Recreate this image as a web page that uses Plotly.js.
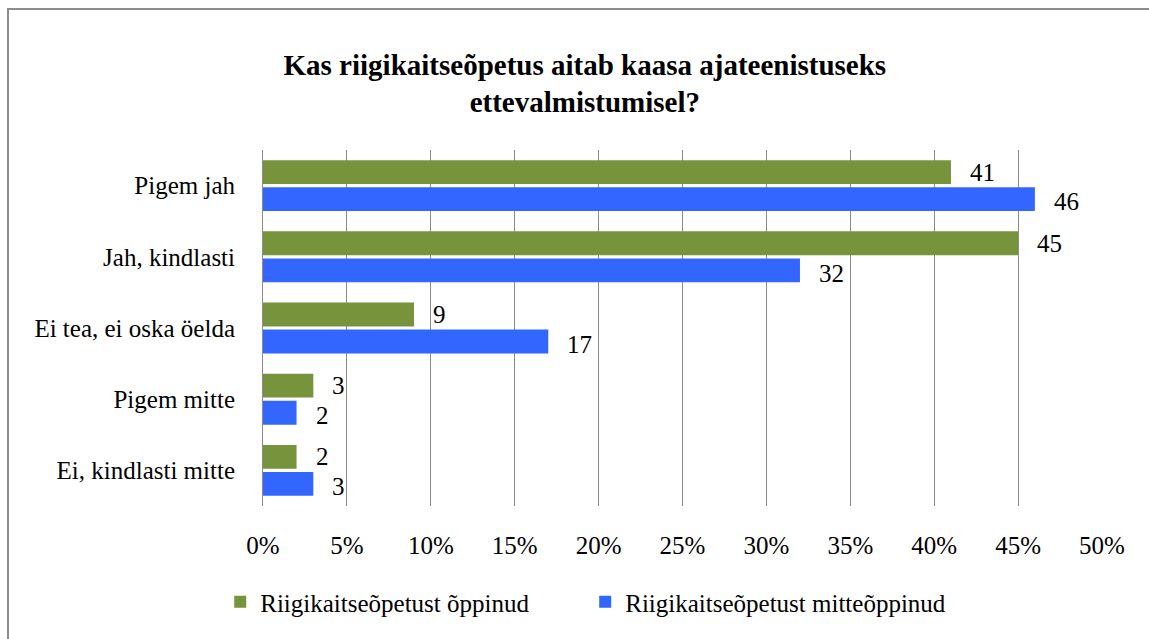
<!DOCTYPE html>
<html>
<head>
<meta charset="utf-8">
<script src="https://cdn.plot.ly/plotly-3.0.1.min.js"></script>
</head>
<body style="margin:0">
<div id="chart"></div>
<div style="position:absolute;left:7px;top:8px;width:1142px;height:0;border-top:2px solid #8c8c8c;pointer-events:none;"></div>
<div style="position:absolute;left:7px;top:8px;width:0;height:631px;border-left:2px solid #8c8c8c;pointer-events:none;"></div>
<script>
var categories = ["Pigem jah", "Jah, kindlasti", "Ei tea, ei oska öelda", "Pigem mitte", "Ei, kindlasti mitte"];
var seriesNames = ["Riigikaitseõpetust õppinud", "Riigikaitseõpetust mitteõppinud"];
var studied = [41, 45, 9, 3, 2];
var notStudied = [46, 32, 17, 2, 3];
var tickVals = [0, 5, 10, 15, 20, 25, 30, 35, 40, 45, 50];
var tickLabels = ["0%", "5%", "10%", "15%", "20%", "25%", "30%", "35%", "40%", "45%", "50%"];
var colors = ["#77933c", "#3366ff"];

var traces = [studied, notStudied].map(function (vals, i) {
  return {
    type: "bar",
    orientation: "h",
    name: seriesNames[i],
    y: categories,
    x: vals,
    marker: {color: colors[i]}
  };
});

var annotations = [];
[studied, notStudied].forEach(function (vals, i) {
  vals.forEach(function (v, j) {
    annotations.push({
      x: v, y: j + (i === 0 ? -0.19 : 0.23), xref: "x", yref: "y",
      text: String(v), showarrow: false, xanchor: "left",
      xshift: 17, font: {family: "Liberation Serif", size: 25, color: "#000"}
    });
  });
});

var layout = {
  width: 1149, height: 639,
  margin: {l: 263, r: 47, t: 150, b: 133},
  paper_bgcolor: "#fff", plot_bgcolor: "#fff",
  title: {
    text: "<b>Kas riigikaitseõpetus aitab kaasa ajateenistuseks<br>ettevalmistumisel?</b>",
    font: {family: "Liberation Serif", size: 29, color: "#000"},
    x: 0.509, xanchor: "center", y: 0.883, yanchor: "middle"
  },
  barmode: "group",
  bargap: 0.24,
  bargroupgap: 0.12,
  xaxis: {
    range: [0, 50], tickvals: tickVals, ticktext: tickLabels,
    showgrid: true, gridcolor: "#8c8c8c", gridwidth: 1,
    zeroline: false, showline: false, ticks: "",
    ticklabelstandoff: 22,
    tickfont: {family: "Liberation Serif", size: 25, color: "#000"},
    fixedrange: true
  },
  yaxis: {
    autorange: "reversed", type: "category",
    showline: true, linecolor: "#8c8c8c", linewidth: 1,
    showgrid: false, ticks: "", ticklabelstandoff: 22,
    tickfont: {family: "Liberation Serif", size: 25, color: "#000"},
    fixedrange: true
  },
  legend: {
    orientation: "h", x: -0.051, xanchor: "left", y: -0.27, yanchor: "middle",
    font: {family: "Liberation Serif", size: 25, color: "#000"},
    itemwidth: 30, traceorder: "normal", entrywidth: 320
  },
  annotations: annotations,
  showlegend: true
};

function forceSerif() {
  var nodes = document.querySelectorAll("#chart text, #chart tspan");
  for (var k = 0; k < nodes.length; k++) {
    nodes[k].setAttribute("font-family", "Liberation Serif");
    nodes[k].style.setProperty("font-family", "'Liberation Serif', serif", "important");
  }
}

var gd = document.getElementById("chart");
Plotly.newPlot(gd, traces, layout, {displayModeBar: false, staticPlot: true}).then(function () {
  forceSerif();
  gd.on("plotly_afterplot", forceSerif);
});
</script>
</body>
</html>
